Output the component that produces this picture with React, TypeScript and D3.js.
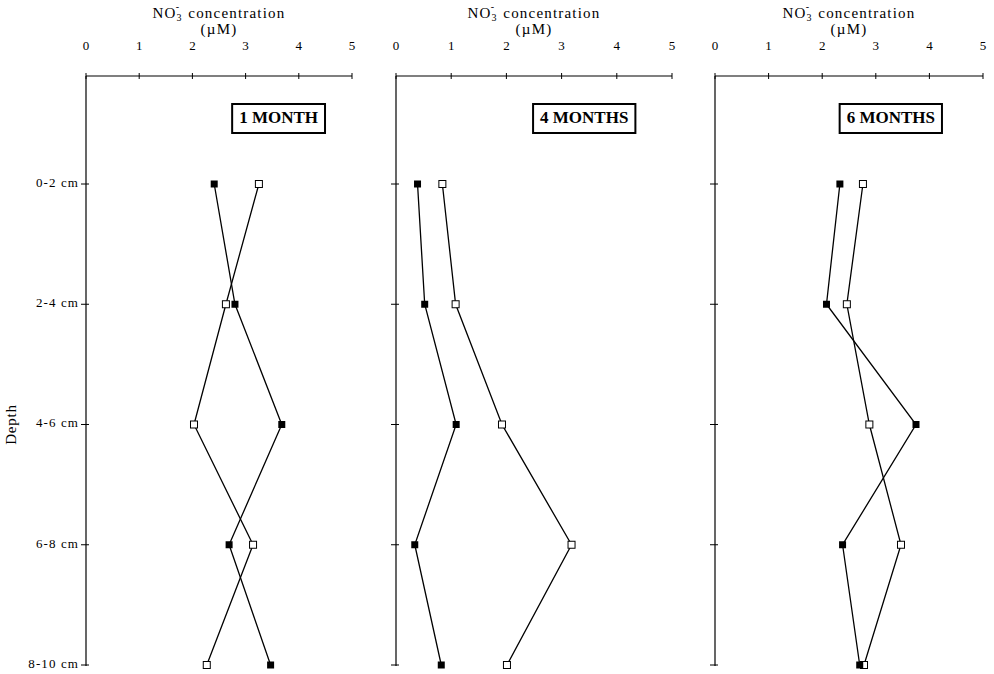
import { useEffect, useRef } from 'react';
import * as d3 from 'd3';

const depths = ['0-2 cm', '2-4 cm', '4-6 cm', '6-8 cm', '8-10 cm'];
const xTicks = [0, 1, 2, 3, 4, 5];
const panelNames = ['1 MONTH', '4 MONTHS', '6 MONTHS'];

// filled squares / open squares, per sampling time
const filled1 = [2.41, 2.8, 3.68, 2.69, 3.47];
const open1 = [3.25, 2.63, 2.03, 3.14, 2.27];
const filled4 = [0.39, 0.52, 1.09, 0.34, 0.82];
const open4 = [0.84, 1.08, 1.92, 3.18, 2.01];
const filled6 = [2.33, 2.08, 3.75, 2.38, 2.7];
const open6 = [2.76, 2.46, 2.88, 3.47, 2.78];

const width = 994;
const height = 674;
const FONT = '"Liberation Serif", "DejaVu Serif", serif';

export default function App() {
  const svgRef = useRef<SVGSVGElement>(null);

  useEffect(() => {
    if (!svgRef.current) return;
    const svg = d3.select(svgRef.current);
    svg.selectAll('*').remove();

    const axisY = 76;
    const y = d3.scalePoint<string>().domain(depths).range([184, 665]);

    const panels = [
      { name: panelNames[0], filled: filled1, open: open1, range: [86, 352], boxAt: 3.62 },
      { name: panelNames[1], filled: filled4, open: open4, range: [396, 672], boxAt: 3.41 },
      { name: panelNames[2], filled: filled6, open: open6, range: [715, 983], boxAt: 3.28 },
    ];

    // depth labels on the first panel
    const g0 = svg.append('g');
    g0.selectAll('text.depth')
      .data(depths)
      .join('text')
      .attr('x', 79)
      .attr('y', d => y(d)!)
      .attr('text-anchor', 'end')
      .attr('dominant-baseline', 'middle')
      .style('font-family', FONT)
      .style('font-size', '13px')
      .style('letter-spacing', '1.1px')
      .text(d => d);

    g0.append('text')
      .attr('transform', `translate(13,${(y(depths[2]) as number)}) rotate(-90)`)
      .attr('text-anchor', 'middle')
      .attr('dominant-baseline', 'middle')
      .style('font-family', FONT)
      .style('font-size', '15px')
      .style('letter-spacing', '0.8px')
      .text('Depth');

    panels.forEach(p => {
      const x = d3.scaleLinear().domain([0, 5]).range(p.range);
      const g = svg.append('g');

      // title
      const cx = (p.range[0] + p.range[1]) / 2;
      const t = g.append('text')
        .attr('x', cx)
        .attr('y', 18)
        .attr('text-anchor', 'middle')
        .style('font-family', FONT)
        .style('font-size', '15px')
        .style('letter-spacing', '1.2px');
      t.append('tspan').text('NO');
      t.append('tspan').attr('dy', 3).style('font-size', '10px').text('3');
      t.append('tspan').attr('dy', -11).attr('dx', -7).style('font-size', '10px').text('-');
      t.append('tspan').attr('dy', 8).attr('dx', 8).text('concentration');
      g.append('text')
        .attr('x', cx)
        .attr('y', 34)
        .attr('text-anchor', 'middle')
        .style('font-family', FONT)
        .style('font-size', '15px')
        .style('letter-spacing', '1.3px')
        .text('(\u00b5M)');

      // x axis
      g.append('line')
        .attr('x1', x(0)).attr('x2', x(5))
        .attr('y1', axisY).attr('y2', axisY)
        .attr('stroke', '#000').attr('stroke-width', 1.2);
      g.selectAll('line.xt')
        .data(xTicks)
        .join('line')
        .attr('x1', d => x(d)).attr('x2', d => x(d))
        .attr('y1', axisY - 3).attr('y2', axisY + 3)
        .attr('stroke', '#000');
      g.selectAll('text.xt')
        .data(xTicks)
        .join('text')
        .attr('x', d => x(d))
        .attr('y', 50)
        .attr('text-anchor', 'middle')
        .style('font-family', FONT)
        .style('font-size', '13px')
        .text(d => d);

      // y axis
      g.append('line')
        .attr('x1', x(0)).attr('x2', x(0))
        .attr('y1', axisY).attr('y2', y(depths[depths.length - 1])! + 1)
        .attr('stroke', '#000').attr('stroke-width', 1.2);
      g.selectAll('line.yt')
        .data(depths)
        .join('line')
        .attr('x1', x(0) - 5).attr('x2', x(0) + 3)
        .attr('y1', d => y(d)!).attr('y2', d => y(d)!)
        .attr('stroke', '#000');

      // boxed label
      const lt = g.append('text')
        .attr('x', x(p.boxAt))
        .attr('y', 119)
        .attr('text-anchor', 'middle')
        .attr('dominant-baseline', 'middle')
        .style('font-family', FONT)
        .style('font-size', '17px')
        .style('font-weight', 'bold')
        .text(p.name);
      const bb = (lt.node() as SVGTextElement).getBBox();
      g.insert('rect', 'text')
        .attr('x', bb.x - 7)
        .attr('y', 104)
        .attr('width', bb.width + 14)
        .attr('height', 29)
        .attr('fill', '#fff')
        .attr('stroke', '#000')
        .attr('stroke-width', 2);

      const line = d3.line<number>()
        .x(d => x(d))
        .y((_, i) => y(depths[i])!);

      [p.open, p.filled].forEach(series => {
        g.append('path')
          .datum(series)
          .attr('d', line)
          .attr('fill', 'none')
          .attr('stroke', '#000')
          .attr('stroke-width', 1.3);
      });

      const s = 7;
      g.selectAll('rect.open')
        .data(p.open)
        .join('rect')
        .attr('x', d => x(d) - s / 2)
        .attr('y', (_, i) => y(depths[i])! - s / 2)
        .attr('width', s).attr('height', s)
        .attr('fill', '#fff')
        .attr('stroke', '#000')
        .attr('stroke-width', 1);
      g.selectAll('rect.filled')
        .data(p.filled)
        .join('rect')
        .attr('x', d => x(d) - s / 2)
        .attr('y', (_, i) => y(depths[i])! - s / 2)
        .attr('width', s).attr('height', s)
        .attr('fill', '#000');
    });
  }, []);

  return (
    <svg
      ref={svgRef}
      width={width}
      height={height}
      viewBox={`0 0 ${width} ${height}`}
      style={{ position: 'absolute', left: 0, top: 0, background: '#fff' }}
    />
  );
}
